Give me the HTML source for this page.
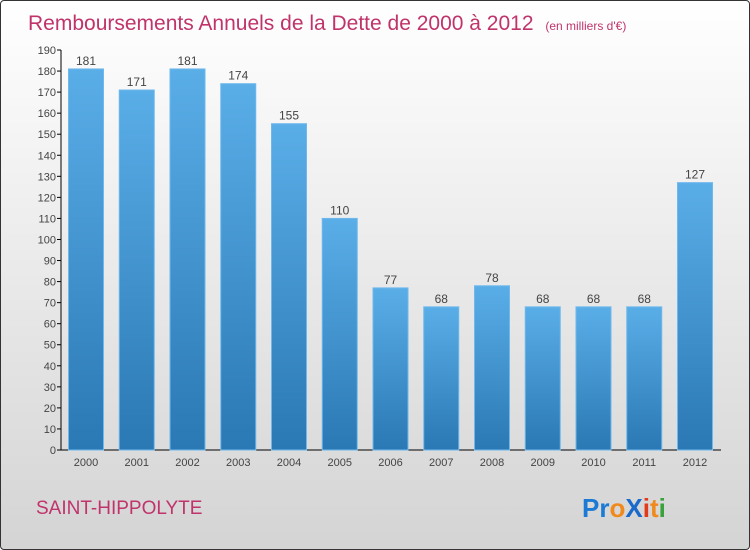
<!DOCTYPE html>
<html><head><meta charset="utf-8"><style>
body{margin:0;width:750px;height:550px;overflow:hidden;font-family:"Liberation Sans",sans-serif}
#frame{position:absolute;left:0;top:0;width:748px;height:548px;border:1px solid #333;border-radius:4px;background:linear-gradient(#ffffff,#f2f2f2 30%,#d4d4d4)}
</style></head><body>
<div id="frame"></div>
<svg id="c" width="750" height="550" style="position:absolute;left:0;top:0">
<defs><linearGradient id="bg" x1="0" y1="0" x2="0" y2="1"><stop offset="0" stop-color="#5aaee8"/><stop offset="1" stop-color="#2a78b4"/></linearGradient></defs>
<text x="28" y="30" font-size="21" fill="#c0336b">Remboursements Annuels de la Dette de 2000 à 2012 <tspan font-size="12" dx="6">(en milliers d'€)</tspan></text>
<text x="36" y="514" font-size="19" fill="#c0336b">SAINT-HIPPOLYTE</text>
<text x="582" y="517" font-size="26" font-weight="bold"><tspan fill="#1a7ad4">Pr</tspan><tspan fill="#f08a1c">o</tspan><tspan fill="#1a6acc">X</tspan><tspan fill="#e23b1c">i</tspan><tspan fill="#f08a1c">t</tspan><tspan fill="#3aa23a">i</tspan></text>
<g id="g"></g>
</svg>
<script>
const categories=["2000","2001","2002","2003","2004","2005","2006","2007","2008","2009","2010","2011","2012"];
const values=[181,171,181,174,155,110,77,68,78,68,68,68,127];
const yTicks=[0,10,20,30,40,50,60,70,80,90,100,110,120,130,140,150,160,170,180,190];
const NS="http://www.w3.org/2000/svg";
const g=document.getElementById('g');
const y=v=>450-v*400/190;
const xc=i=>86+i*50.75;
function mk(t,a){const e=document.createElementNS(NS,t);for(const k in a)e.setAttribute(k,a[k]);g.appendChild(e);return e;}
let e=mk('line',{x1:61,y1:50,x2:61,y2:450,stroke:'#000'});


e=mk('line',{x1:61,y1:450,x2:721,y2:450,stroke:'#000'});


yTicks.forEach(v=>{
 let t=mk('line',{x1:57,x2:61,y1:y(v),y2:y(v),stroke:'#000'});
 
 
 let l=mk('text',{x:56,y:y(v)+4,'text-anchor':'end','font-size':11,fill:'#444'});
 l.textContent=v;
 
 
});
values.forEach((v,i)=>{
 let r=mk('rect',{x:xc(i)-17.5,y:y(v),width:35,height:450-y(v),fill:'url(#bg)',stroke:'#6fb8ec','stroke-width':1});
 
 
 let l=mk('text',{x:xc(i),y:y(v)-4,'text-anchor':'middle','font-size':12,fill:'#444'});
 l.textContent=v;
 
 
 let c=mk('text',{x:xc(i),y:466,'text-anchor':'middle','font-size':11,fill:'#444'});
 c.textContent=categories[i];
 
 
});
</script>
</body></html>
